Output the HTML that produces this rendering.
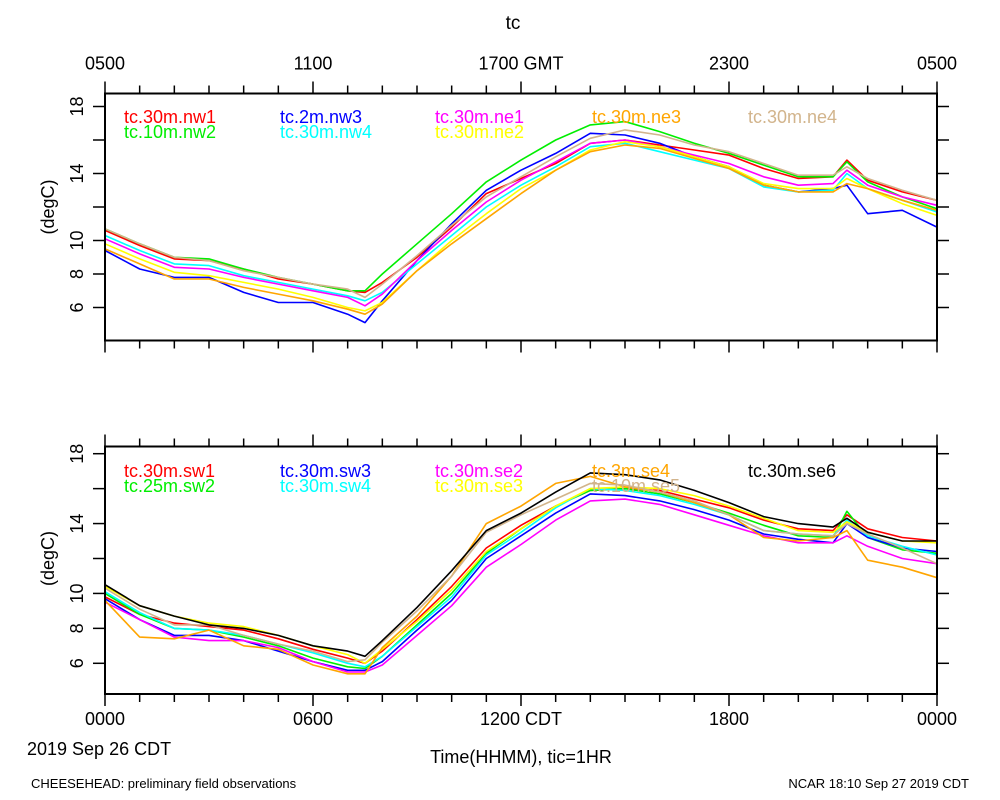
<!DOCTYPE html>
<html><head><meta charset="utf-8"><style>
body{margin:0;background:#fff;}
svg{display:block;font-family:"Liberation Sans",sans-serif;}
</style></head><body>
<svg id="chart" width="1000" height="800" viewBox="0 0 1000 800">
<text x="513" y="29" font-size="19" text-anchor="middle">tc</text>
<text x="31" y="788" font-size="13">CHEESEHEAD: preliminary field observations</text>
<text x="969" y="788" font-size="13" text-anchor="end">NCAR 18:10 Sep 27 2019 CDT</text>
<text x="27" y="755" font-size="18">2019 Sep 26 CDT</text>
<text x="521" y="763" font-size="18" text-anchor="middle">Time(HHMM), tic=1HR</text>
</svg>
<script>
const times=[0,1,2,3,4,5,6,7,7.5,8,9,10,11,12,13,14,15,16,17,18,19,20,21,21.4,22,23,24];
const yTicks=[6,8,10,12,14,16,18];
const yLabels=["6","8","10","","14","","18"];
const topLabels=["0500","1100","1700 GMT","2300","0500"];
const botLabels=["0000","0600","1200 CDT","1800","0000"];
const colorsTop=["#ff0000","#00ee00","#0000ff","#00ffff","#ff00ff","#ffff00","#ffa500","#d2b48c"];
const namesTop=["tc.30m.nw1","tc.10m.nw2","tc.2m.nw3","tc.30m.nw4","tc.30m.ne1","tc.30m.ne2","tc.30m.ne3","tc.30m.ne4"];
const nw1=[10.6,9.7,8.9,8.8,8.3,7.7,7.4,7.0,6.9,7.5,9.0,10.8,12.8,13.7,14.6,15.8,16.0,15.7,15.4,15.1,14.3,13.7,13.8,14.8,13.6,12.9,12.4];
const nw2=[10.7,9.8,9.0,8.9,8.3,7.8,7.4,7.0,7.0,8.0,9.8,11.6,13.5,14.8,16.0,16.9,17.1,16.5,15.8,15.2,14.5,13.8,13.8,14.7,13.5,12.6,11.9];
const nw3=[9.4,8.3,7.8,7.8,6.9,6.3,6.3,5.6,5.1,6.4,8.8,11.0,13.0,14.2,15.2,16.4,16.3,15.8,15.0,14.4,13.3,12.9,13.1,13.3,11.6,11.8,10.8];
const nw4=[10.3,9.4,8.6,8.5,7.9,7.5,7.1,6.7,6.4,6.9,8.6,10.3,12.0,13.3,14.4,15.6,15.8,15.3,14.8,14.3,13.2,12.9,13.0,14.0,13.1,12.4,11.7];
const ne1=[10.1,9.2,8.4,8.3,7.8,7.4,7.0,6.6,6.1,6.8,8.8,10.6,12.3,13.6,14.7,15.8,16.0,15.6,15.1,14.6,13.8,13.3,13.4,14.2,13.3,12.6,12.1];
const ne2=[9.8,8.9,8.1,7.9,7.5,7.1,6.6,6.0,5.8,6.3,8.2,10.0,11.6,13.1,14.2,15.4,15.9,15.6,15.0,14.4,13.4,13.1,13.1,13.7,13.1,12.2,11.5];
const ne3=[9.5,8.6,7.7,7.7,7.2,6.8,6.4,5.9,5.6,6.2,8.2,9.8,11.3,12.8,14.2,15.3,15.7,15.5,14.9,14.3,13.3,12.9,12.9,13.4,13.1,12.4,11.8];
const ne4=[10.7,9.8,9.0,8.8,8.2,7.8,7.4,7.1,6.6,7.4,9.1,10.9,12.6,13.8,15.0,16.1,16.6,16.3,15.7,15.3,14.6,13.9,13.9,14.4,13.7,13.0,12.4];
const colorsBot=["#ff0000","#00ee00","#0000ff","#00ffff","#ff00ff","#ffff00","#ffa500","#d2b48c","#000000"];
const namesBot=["tc.30m.sw1","tc.25m.sw2","tc.30m.sw3","tc.30m.sw4","tc.30m.se2","tc.30m.se3","tc.3m.se4","tc.10m.se5","tc.30m.se6"];
const sw1=[9.8,8.8,8.3,8.1,7.9,7.4,6.8,6.3,6.0,6.7,8.5,10.4,12.6,13.9,15.0,15.9,16.0,15.9,15.4,14.9,14.2,13.7,13.6,14.5,13.7,13.2,13.0];
const sw2=[10.0,8.8,8.0,7.9,7.5,7.0,6.3,5.8,5.7,6.4,8.2,10.0,12.3,13.7,15.0,15.9,16.0,15.7,15.2,14.6,13.9,13.3,13.2,14.7,13.2,12.5,12.3];
const sw3=[9.7,8.5,7.6,7.6,7.3,6.7,6.1,5.6,5.6,6.1,7.9,9.6,12.0,13.3,14.6,15.7,15.6,15.3,14.8,14.2,13.4,13.1,12.9,14.0,13.2,12.6,12.4];
const sw4=[10.1,8.9,8.0,7.9,7.6,7.1,6.6,6.0,5.8,6.4,8.1,9.8,12.2,13.5,14.9,16.0,15.9,15.6,15.1,14.5,13.6,13.4,13.3,14.2,13.3,12.7,12.2];
const se2=[9.5,8.5,7.5,7.3,7.3,6.9,6.1,5.5,5.5,5.9,7.6,9.3,11.5,12.8,14.2,15.3,15.4,15.1,14.5,13.9,13.3,12.9,12.9,13.3,12.7,12.0,11.7];
const se3=[10.4,9.3,8.7,8.3,8.1,7.6,7.0,6.5,6.0,6.8,8.4,10.2,12.4,13.7,15.0,16.0,16.1,16.0,15.6,15.0,14.3,13.6,13.5,14.1,13.5,13.0,12.9];
const se4=[9.6,7.5,7.4,7.9,7.0,6.8,5.9,5.4,5.4,6.9,8.7,11.0,14.0,15.0,16.3,16.7,16.1,15.8,15.2,14.5,13.2,13.0,13.2,13.6,11.9,11.5,10.9];
const se5=[10.3,9.1,8.2,8.2,7.6,7.1,6.7,6.1,6.2,7.2,9.0,11.0,13.5,14.5,15.4,16.3,16.2,15.8,15.3,14.5,13.6,13.4,13.3,14.0,13.4,12.6,11.7];
const se6=[10.5,9.3,8.7,8.2,8.0,7.6,7.0,6.7,6.4,7.3,9.2,11.3,13.6,14.6,15.8,16.9,16.8,16.5,15.9,15.2,14.4,14.0,13.8,14.3,13.5,13.0,13.0];
const seriesTop=[nw1,nw2,nw3,nw4,ne1,ne2,ne3,ne4];
const seriesBot=[sw1,sw2,sw3,sw4,se2,se3,se4,se5,se6];

const svg=document.getElementById('chart');
const NS='http://www.w3.org/2000/svg';
const X0=105,X1=937;
function xs(h){return X0+h*(X1-X0)/24;}
function mk(tag,attrs,parent){const e=document.createElementNS(NS,tag);for(const k in attrs)e.setAttribute(k,attrs[k]);(parent||svg).appendChild(e);return e;}

function panel(name,top,bottom,y18,y6,series,colors,names,xLabelsTop,xLabelsBot,labelY){
  const ys=v=>y6+(v-6)*(y18-y6)/12;
  const g=mk('g',{});
  
  
  series.forEach((s,i)=>{
    const p=mk('polyline',{points:s.map((v,j)=>xs(times[j]).toFixed(1)+','+ys(v).toFixed(1)).join(' '),fill:'none',stroke:colors[i],'stroke-width':1.6,'stroke-linejoin':'round'},g);
    
    
  });
  const b=mk('rect',{x:X0,y:top,width:X1-X0,height:bottom-top,fill:'none',stroke:'#000','stroke-width':2},g);
  
  
  for(let h=0;h<=24;h++){
    const x=xs(h),maj=h%6===0,len=maj?12:8;
    mk('line',{x1:x,y1:top,x2:x,y2:top-len,stroke:'#000','stroke-width':1.5},g);
    mk('line',{x1:x,y1:bottom,x2:x,y2:bottom+len,stroke:'#000','stroke-width':1.5},g);
  }
  yTicks.forEach((v,i)=>{
    const y=ys(v);
    mk('line',{x1:X0,y1:y,x2:X0-12,y2:y,stroke:'#000','stroke-width':1.5},g);
    mk('line',{x1:X1,y1:y,x2:X1+12,y2:y,stroke:'#000','stroke-width':1.5},g);
    if(yLabels[i]){
      const t=mk('text',{x:0,y:0,'font-size':18,'text-anchor':'middle',transform:'translate(83,'+y+') rotate(-90)'},g);
      t.textContent=yLabels[i];
      
      
    }
  });
  const yl=mk('text',{x:0,y:0,'font-size':18,'text-anchor':'middle',transform:'translate(54,'+((ys(18)+ys(6))/2)+') rotate(-90)'},g);
  yl.textContent='(degC)';
  
  
  const lbls=xLabelsTop||xLabelsBot, ly=xLabelsTop?top-24:bottom+31;
  if(lbls) lbls.forEach((l,i)=>{
    const t=mk('text',{x:xs(i*6)+(i===2&&xLabelsTop?0:0),y:ly,'font-size':18,'text-anchor':'middle'},g);
    t.textContent=l;
    
    
  });
  const cols=[124,280,435,592,748];
  names.forEach((n,i)=>{
    let c,r;
    if(i<8){c=Math.floor(i/2);r=i%2;} else {c=4;r=0;}
    if(names.length===8&&i===7){c=4;r=0;}
    if(names.length===8&&i===6){c=3;r=0;}
    if(names.length===9&&i===6){c=3;r=0;}
    if(names.length===9&&i===7){c=3;r=1;}
    const t=mk('text',{x:cols[c],y:labelY+r*15,'font-size':18,fill:colors[i]},g);
    t.textContent=n;
    
    
  });
}
panel('top-panel',93.5,340.5,106.5,307.5,seriesTop,colorsTop,namesTop,topLabels,null,123);
panel('bottom-panel',446.5,694,453.7,663.3,seriesBot,colorsBot,namesBot,null,botLabels,477);
</script>
</body></html>
